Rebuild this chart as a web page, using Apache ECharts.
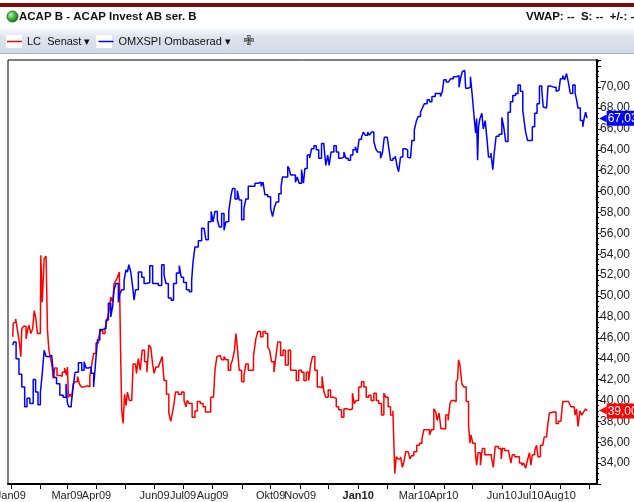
<!DOCTYPE html>
<html>
<head>
<meta charset="utf-8">
<script src="https://cdn.jsdelivr.net/npm/echarts@6/dist/echarts.min.js"></script>
<style>
  html, body { margin: 0; padding: 0; background: #fff; }
  #chart { width: 634px; height: 502px; }
</style>
</head>
<body>
<div id="chart"></div>
<script>
// OMXSPI Ombaserad (blå)
const omxDates = [
  '2009-01-03','2009-01-05','2009-01-08','2009-01-11','2009-01-14','2009-01-17','2009-01-19','2009-01-23','2009-01-26','2009-01-28','2009-01-31',
  '2009-02-02','2009-02-04','2009-02-06','2009-02-08','2009-02-13','2009-02-15','2009-02-16','2009-02-20','2009-02-23','2009-02-27',
  '2009-03-01','2009-03-02','2009-03-04','2009-03-07','2009-03-08','2009-03-11','2009-03-15','2009-03-18','2009-03-20','2009-03-22','2009-03-25','2009-03-28','2009-03-30',
  '2009-04-01','2009-04-03','2009-04-06','2009-04-10','2009-04-12','2009-04-15','2009-04-17','2009-04-19','2009-04-20','2009-04-23','2009-04-25','2009-04-26','2009-04-29',
  '2009-05-01','2009-05-03','2009-05-04','2009-05-06','2009-05-08','2009-05-10','2009-05-11','2009-05-13','2009-05-17','2009-05-20','2009-05-22','2009-05-25','2009-05-29','2009-05-31',
  '2009-06-03','2009-06-07','2009-06-10','2009-06-12','2009-06-14','2009-06-17','2009-06-20','2009-06-22','2009-06-26','2009-06-28','2009-06-30',
  '2009-07-03','2009-07-06','2009-07-09','2009-07-11','2009-07-12','2009-07-15','2009-07-19','2009-07-22','2009-07-24','2009-07-26','2009-07-29',
  '2009-08-01','2009-08-02','2009-08-05','2009-08-07','2009-08-09','2009-08-12','2009-08-14','2009-08-16','2009-08-20','2009-08-21','2009-08-23','2009-08-26','2009-08-28','2009-08-30',
  '2009-09-02','2009-09-04','2009-09-06','2009-09-09','2009-09-13','2009-09-16','2009-09-20','2009-09-22','2009-09-24','2009-09-26','2009-09-30',
  '2009-10-02','2009-10-04','2009-10-06','2009-10-08','2009-10-11','2009-10-13','2009-10-14','2009-10-18','2009-10-20','2009-10-21','2009-10-23','2009-10-26','2009-10-28','2009-10-30',
  '2009-11-01','2009-11-04','2009-11-05','2009-11-07','2009-11-10','2009-11-12','2009-11-14','2009-11-17','2009-11-19','2009-11-22','2009-11-25','2009-11-27','2009-11-29',
  '2009-12-01','2009-12-02','2009-12-05','2009-12-08','2009-12-10','2009-12-13','2009-12-16','2009-12-18','2009-12-20','2009-12-23','2009-12-25','2009-12-28','2009-12-30',
  '2010-01-01','2010-01-03','2010-01-06','2010-01-07','2010-01-10','2010-01-12','2010-01-14','2010-01-16','2010-01-19','2010-01-20','2010-01-23','2010-01-26','2010-01-27','2010-01-30',
  '2010-02-02','2010-02-03','2010-02-05','2010-02-08','2010-02-10','2010-02-12','2010-02-13','2010-02-16','2010-02-18','2010-02-21','2010-02-23','2010-02-25','2010-02-28',
  '2010-03-02','2010-03-04','2010-03-06','2010-03-09','2010-03-10','2010-03-13','2010-03-16','2010-03-18','2010-03-21','2010-03-25','2010-03-27','2010-03-30','2010-03-31',
  '2010-04-02','2010-04-05','2010-04-07','2010-04-09','2010-04-13','2010-04-16','2010-04-18','2010-04-20','2010-04-21','2010-04-23','2010-04-25','2010-04-28','2010-04-30',
  '2010-05-02','2010-05-04','2010-05-05','2010-05-06','2010-05-07','2010-05-08','2010-05-10','2010-05-12','2010-05-13','2010-05-16','2010-05-17','2010-05-19','2010-05-22','2010-05-23','2010-05-25','2010-05-27','2010-05-31',
  '2010-06-02','2010-06-04','2010-06-06','2010-06-09','2010-06-11','2010-06-14','2010-06-17','2010-06-19','2010-06-22','2010-06-24','2010-06-25','2010-06-27','2010-06-29',
  '2010-07-02','2010-07-04','2010-07-07','2010-07-09','2010-07-12','2010-07-14','2010-07-15','2010-07-18','2010-07-21','2010-07-24','2010-07-27','2010-07-29','2010-07-31',
  '2010-08-03','2010-08-05','2010-08-07','2010-08-09','2010-08-11','2010-08-13','2010-08-16','2010-08-18','2010-08-19','2010-08-21','2010-08-24','2010-08-26','2010-08-27','2010-08-29','2010-08-30'
];
const omxValues = [
  45.3,45.6,44.0,42.5,41.3,39.4,40.2,39.7,42.0,40.8,39.6,
  40.7,42.6,44.8,44.2,44.3,43.2,42.2,41.6,40.5,40.3,
  41.6,39.7,39.4,39.7,41.3,42.7,43.6,42.9,43.7,43.1,43.2,42.6,41.3,
  43.6,45.8,46.8,46.9,47.7,49.3,48.0,49.0,50.6,51.2,49.4,50.2,50.6,
  51.5,52.5,52.3,53.0,52.3,50.9,49.6,50.6,52.3,51.8,51.2,51.3,52.9,51.2,
  51.2,51.0,53.0,52.0,51.2,49.8,49.6,51.2,52.2,52.9,51.8,
  51.3,50.6,50.4,51.5,53.3,54.7,55.3,56.5,56.5,55.4,57.1,
  58.1,57.1,58.1,57.3,56.6,57.9,56.3,57.1,58.1,59.7,60.3,59.3,60.1,59.2,
  57.3,58.4,59.3,60.5,60.5,60.8,60.9,60.5,60.9,59.7,59.5,
  58.4,57.6,58.5,59.0,59.8,60.5,61.4,61.4,62.4,62.2,61.6,61.6,60.9,61.4,
  60.8,62.1,60.8,62.2,63.5,63.2,64.1,64.4,64.0,63.2,64.6,64.4,62.5,
  63.5,62.5,63.8,64.4,63.8,63.2,63.3,63.8,63.2,63.0,63.5,64.0,64.3,
  63.7,65.0,65.2,65.7,65.4,65.7,65.4,65.7,64.8,64.1,63.8,63.2,63.7,65.2,
  65.2,64.0,63.0,63.2,63.4,62.4,61.9,63.3,64.1,64.0,63.3,63.2,64.9,
  65.9,66.7,67.2,67.6,68.0,68.4,68.8,68.6,69.1,69.4,69.4,69.1,69.6,
  70.7,70.5,70.4,70.8,71.0,71.1,70.0,71.0,71.5,71.6,69.9,70.0,71.0,
  69.1,67.0,65.6,67.0,63.0,66.2,67.0,67.5,66.0,66.8,64.9,63.3,63.7,62.1,63.7,65.3,65.5,
  67.1,66.2,64.8,67.6,68.6,69.2,69.4,70.2,69.6,67.8,66.7,65.7,64.9,
  64.9,66.2,67.5,68.4,70.1,69.7,68.1,68.0,70.1,70.0,70.0,69.6,69.7,
  70.8,71.1,70.7,71.3,70.4,69.4,70.2,69.4,68.8,68.0,66.8,66.2,67.0,67.6,67.03
];

// LC Senast (röd)
const lcDates = [
  '2009-01-03','2009-01-04','2009-01-05','2009-01-07','2009-01-09','2009-01-11','2009-01-12','2009-01-13','2009-01-16','2009-01-18','2009-01-19','2009-01-21','2009-01-23','2009-01-25','2009-01-26','2009-01-28','2009-01-30',
  '2009-02-01','2009-02-02','2009-02-04','2009-02-06','2009-02-08','2009-02-09','2009-02-11','2009-02-13','2009-02-14','2009-02-15','2009-02-17','2009-02-20','2009-02-23','2009-02-25','2009-02-28',
  '2009-03-01','2009-03-02','2009-03-03','2009-03-05','2009-03-07','2009-03-08','2009-03-11','2009-03-13','2009-03-15','2009-03-17','2009-03-21','2009-03-24','2009-03-26','2009-03-28','2009-03-30',
  '2009-04-02','2009-04-04','2009-04-06','2009-04-09','2009-04-11','2009-04-13','2009-04-15','2009-04-17','2009-04-19','2009-04-20','2009-04-22','2009-04-24','2009-04-26','2009-04-27','2009-04-28','2009-04-30',
  '2009-05-01','2009-05-03','2009-05-04','2009-05-07','2009-05-09','2009-05-10','2009-05-12','2009-05-14','2009-05-16','2009-05-18','2009-05-20','2009-05-23','2009-05-25','2009-05-27','2009-05-29','2009-05-31',
  '2009-06-01','2009-06-04','2009-06-06','2009-06-08','2009-06-10','2009-06-12','2009-06-15','2009-06-17','2009-06-19','2009-06-21','2009-06-22','2009-06-24','2009-06-28',
  '2009-07-01','2009-07-03','2009-07-05','2009-07-06','2009-07-09','2009-07-12','2009-07-15','2009-07-17','2009-07-21','2009-07-23','2009-07-26','2009-07-29','2009-07-31',
  '2009-08-02','2009-08-05','2009-08-06','2009-08-09','2009-08-12','2009-08-14','2009-08-16','2009-08-19','2009-08-21','2009-08-23','2009-08-25','2009-08-26','2009-08-28','2009-08-30',
  '2009-09-02','2009-09-04','2009-09-06','2009-09-09','2009-09-11','2009-09-15','2009-09-16','2009-09-19','2009-09-22','2009-09-24','2009-09-27','2009-09-29',
  '2009-10-01','2009-10-03','2009-10-06','2009-10-07','2009-10-10','2009-10-13','2009-10-15','2009-10-18','2009-10-21','2009-10-23','2009-10-27','2009-10-29',
  '2009-11-01','2009-11-04','2009-11-06','2009-11-09','2009-11-11','2009-11-13','2009-11-15','2009-11-18','2009-11-20','2009-11-23','2009-11-25','2009-11-27','2009-11-29',
  '2009-12-02','2009-12-04','2009-12-08','2009-12-10','2009-12-13','2009-12-16','2009-12-18','2009-12-22','2009-12-25','2009-12-27','2009-12-29','2009-12-31',
  '2010-01-03','2010-01-06','2010-01-08','2010-01-11','2010-01-13','2010-01-16','2010-01-19','2010-01-21','2010-01-24','2010-01-27','2010-01-29','2010-01-31',
  '2010-02-03','2010-02-05','2010-02-08','2010-02-09','2010-02-11','2010-02-13','2010-02-16','2010-02-17','2010-02-19','2010-02-21','2010-02-24','2010-02-25','2010-02-27',
  '2010-03-02','2010-03-05','2010-03-08','2010-03-10','2010-03-12','2010-03-16','2010-03-18','2010-03-20','2010-03-23','2010-03-24','2010-03-26','2010-03-28','2010-03-30',
  '2010-04-02','2010-04-04','2010-04-07','2010-04-08','2010-04-10','2010-04-13','2010-04-15','2010-04-16','2010-04-17','2010-04-19','2010-04-21','2010-04-23','2010-04-26','2010-04-28','2010-04-29','2010-04-30',
  '2010-05-03','2010-05-05','2010-05-06','2010-05-08','2010-05-11','2010-05-12','2010-05-16','2010-05-20','2010-05-22','2010-05-24','2010-05-26','2010-05-31',
  '2010-06-01','2010-06-02','2010-06-06','2010-06-10','2010-06-11','2010-06-13','2010-06-16','2010-06-18','2010-06-21','2010-06-23','2010-06-25','2010-06-27','2010-06-29',
  '2010-07-01','2010-07-02','2010-07-04','2010-07-07','2010-07-08','2010-07-10','2010-07-13','2010-07-15','2010-07-16','2010-07-18','2010-07-20','2010-07-22','2010-07-23','2010-07-27','2010-07-29',
  '2010-08-01','2010-08-03','2010-08-05','2010-08-08','2010-08-12','2010-08-13','2010-08-16','2010-08-18','2010-08-19','2010-08-21','2010-08-23','2010-08-25','2010-08-27','2010-08-29','2010-08-30'
];
const lcValues = [
  46.1,47.4,47.5,47.8,46.7,45.5,44.2,46.9,47.1,45.9,46.7,47.2,46.4,46.9,48.6,48.0,46.4,
  46.4,53.9,49.4,53.6,53.8,46.7,44.8,43.9,43.2,42.1,43.1,42.4,42.3,42.7,43.1,
  42.4,43.2,40.3,40.6,40.3,41.6,41.8,42.3,41.6,41.3,41.4,41.3,42.3,43.4,44.5,
  45.5,45.9,46.7,46.4,46.9,47.7,48.5,49.9,49.4,51.2,51.4,51.8,52.3,43.9,39.0,37.8,
  40.6,39.5,40.8,40.0,40.1,43.5,43.5,42.6,44.0,42.9,44.8,43.7,42.7,45.3,45.1,43.5,
  42.6,43.2,43.1,43.7,44.2,41.9,40.6,38.8,38.0,38.9,39.7,40.8,40.6,
  40.8,40.0,39.4,40.0,39.7,38.4,39.0,39.9,39.7,39.4,38.9,38.9,40.3,
  40.3,42.9,44.2,44.3,43.9,44.2,43.9,42.9,43.4,43.9,44.8,46.4,45.1,42.9,
  41.8,42.4,43.5,42.9,42.9,44.3,45.9,46.6,46.1,46.6,46.4,45.1,
  44.8,43.7,42.7,44.2,45.6,44.3,44.8,43.4,44.8,42.9,42.9,41.9,
  42.9,42.7,41.9,42.7,41.9,43.4,44.2,42.9,41.3,41.2,42.3,40.8,40.3,
  41.0,40.3,40.2,39.4,39.1,38.4,39.2,39.1,39.2,40.7,39.7,40.0,
  41.3,41.8,41.3,40.3,40.5,40.0,40.7,40.0,39.7,38.6,40.7,40.3,
  39.4,38.6,39.0,33.0,34.6,34.4,34.6,33.6,34.1,35.1,35.1,34.4,34.7,
  35.1,35.7,35.9,36.3,37.2,37.2,36.7,37.2,39.2,38.9,38.1,38.8,37.3,
  37.3,38.6,38.1,39.7,40.0,39.9,41.8,42.0,43.9,43.4,41.6,41.3,39.9,37.6,35.9,36.7,
  35.9,35.2,33.8,35.0,33.8,35.4,34.8,34.8,34.6,33.6,35.6,35.4,
  34.4,35.4,35.2,35.2,34.0,34.8,34.6,34.6,34.0,33.8,34.0,33.5,34.3,
  35.0,33.8,34.8,35.2,35.7,34.6,35.7,35.6,36.5,36.5,37.5,38.8,38.9,38.9,37.8,
  38.0,38.1,39.9,39.9,39.9,39.4,39.4,38.6,39.2,37.5,39.0,38.6,38.9,39.2,39.0
];

const monthNames = ['Jan', 'Feb', 'Mar', 'Apr', 'Maj', 'Jun', 'Jul', 'Aug', 'Sep', 'Okt', 'Nov', 'Dec'];
// bara dessa månadsetiketter syns på x-axeln
const shownMonths = ['Jan09', 'Mar09', 'Apr09', 'Jun09', 'Jul09', 'Aug09', 'Okt09', 'Nov09',
  'Jan10', 'Mar10', 'Apr10', 'Jun10', 'Jul10', 'Aug10'];
const yLabelMin = 34;
const yLabelMax = 70;

const FONT = 'Liberation Sans, Arial, sans-serif';
const fmt = v => v.toFixed(2).replace('.', ',');

function pairs(dates, values) {
  return dates.map((d, i) => [d, values[i]]);
}

function endTag(values, color) {
  const last = values[values.length - 1];
  return {
    silent: true,
    symbol: 'none',
    animation: false,
    lineStyle: { color: 'rgba(0,0,0,0)', width: 0 },
    label: {
      show: true,
      position: 'end',
      distance: 2,
      formatter: '{a|◀}{b|' + fmt(last) + '}',
      rich: {
        a: { color: color, fontSize: 10, fontFamily: 'DejaVu Sans', padding: [0, 0, 0, 0] },
        b: { backgroundColor: color, color: '#fff', fontSize: 12, fontFamily: FONT, padding: [2, 3, 1, 1] }
      }
    },
    data: [{ yAxis: last }]
  };
}

const chart = echarts.init(document.getElementById('chart'));

const option = {
  animation: false,
  backgroundColor: '#fff',
  graphic: [
    { type: 'rect', shape: { x: 0, y: 3, width: 634, height: 4 }, style: { fill: '#7a0c0c' } },
    {
      type: 'circle', shape: { cx: 12.5, cy: 16.5, r: 5.5 },
      style: {
        fill: new echarts.graphic.RadialGradient(0.35, 0.35, 0.7, [
          { offset: 0, color: '#b6f59f' }, { offset: 0.5, color: '#3cb83a' }, { offset: 1, color: '#136b16' }
        ]),
        stroke: '#2a4a2a', lineWidth: 0.8
      }
    },
    {
      type: 'text', x: 19, y: 17,
      style: { text: 'ACAP B - ACAP Invest AB ser. B', font: 'bold 11.5px ' + FONT, fill: '#111', verticalAlign: 'middle' }
    },
    {
      type: 'text', x: 526, y: 17,
      style: { text: 'VWAP: --  S: --  +/-: --', font: 'bold 11.5px ' + FONT, fill: '#111', verticalAlign: 'middle' }
    },
    {
      type: 'rect', shape: { x: 0, y: 28, width: 634, height: 25 },
      style: {
        fill: new echarts.graphic.LinearGradient(0, 0, 0, 1, [
          { offset: 0, color: '#fbfcfd' }, { offset: 0.35, color: '#dfe4ef' }, { offset: 1, color: '#d3d9e8' }
        ])
      }
    },
    { type: 'line', shape: { x1: 0, y1: 53.5, x2: 634, y2: 53.5 }, style: { stroke: '#a9b1c3', lineWidth: 1 } },
    // vita rutor bakom legendlinjerna
    { type: 'rect', shape: { x: 6, y: 35, width: 16, height: 13 }, style: { fill: '#fff' } },
    { type: 'rect', shape: { x: 96, y: 35, width: 16, height: 13 }, style: { fill: '#fff' } },
    {
      type: 'text', x: 243, y: 41.5,
      style: { text: '✙', font: '13px DejaVu Sans', fill: '#333', verticalAlign: 'middle' }
    }
  ],
  legend: {
    left: 2,
    top: 31,
    icon: 'rect',
    itemWidth: 15,
    itemHeight: 1.5,
    itemGap: 8,
    textStyle: { fontSize: 11, color: '#111', fontFamily: FONT },
    formatter: name => name + ' ▾',
    data: ['LC  Senast', 'OMXSPI Ombaserad']
  },
  grid: {
    left: 8, right: 37, top: 60, bottom: 18,
    containLabel: false,
    outerBoundsMode: 'none',
    show: true, borderColor: '#000', borderWidth: 1
  },
  xAxis: {
    type: 'time',
    min: '2008-12-29',
    max: '2010-09-09',
    splitNumber: 20,
    minInterval: 28 * 86400000,
    maxInterval: 31 * 86400000,
    axisLine: { show: true, lineStyle: { color: '#000', width: 2 } },
    axisTick: { show: true, length: 5, lineStyle: { color: '#000' } },
    splitLine: { show: false },
    axisLabel: {
      fontSize: 11, color: '#222', fontFamily: FONT, margin: 6,
      formatter: function (value) {
        const d = new Date(value);
        const label = monthNames[d.getMonth()] + String(d.getFullYear()).slice(2);
        if (shownMonths.indexOf(label) < 0) return '';
        return label === 'Jan10' ? '{b|' + label + '}' : label;
      },
      rich: { b: { fontWeight: 'bold', fontSize: 11, color: '#222', fontFamily: FONT } }
    }
  },
  yAxis: {
    type: 'value',
    position: 'right',
    min: 32,
    max: 72.6,
    interval: 2,
    axisLine: { show: true, lineStyle: { color: '#000', width: 2 } },
    axisTick: { show: true, length: 4, lineStyle: { color: '#000' } },
    minorTick: { show: true, splitNumber: 4, length: 2, lineStyle: { color: '#000' } },
    splitLine: { show: false },
    axisLabel: {
      fontSize: 12, color: '#222', fontFamily: FONT, margin: 3,
      formatter: v => (v >= yLabelMin && v <= yLabelMax) ? fmt(v) : ''
    }
  },
  series: [
    {
      name: 'LC  Senast',
      type: 'line',
      step: 'middle',
      symbol: 'none',
      data: pairs(lcDates, lcValues),
      lineStyle: { color: '#ff0000', width: 1.5 },
      itemStyle: { color: '#ff0000' },
      markLine: endTag(lcValues, '#ff0000')
    },
    {
      name: 'OMXSPI Ombaserad',
      type: 'line',
      step: 'middle',
      symbol: 'none',
      data: pairs(omxDates, omxValues),
      lineStyle: { color: '#0000ff', width: 1.5 },
      itemStyle: { color: '#0000ff' },
      markLine: endTag(omxValues, '#0000ff')
    }
  ]
};

chart.setOption(option);
</script>
</body>
</html>
